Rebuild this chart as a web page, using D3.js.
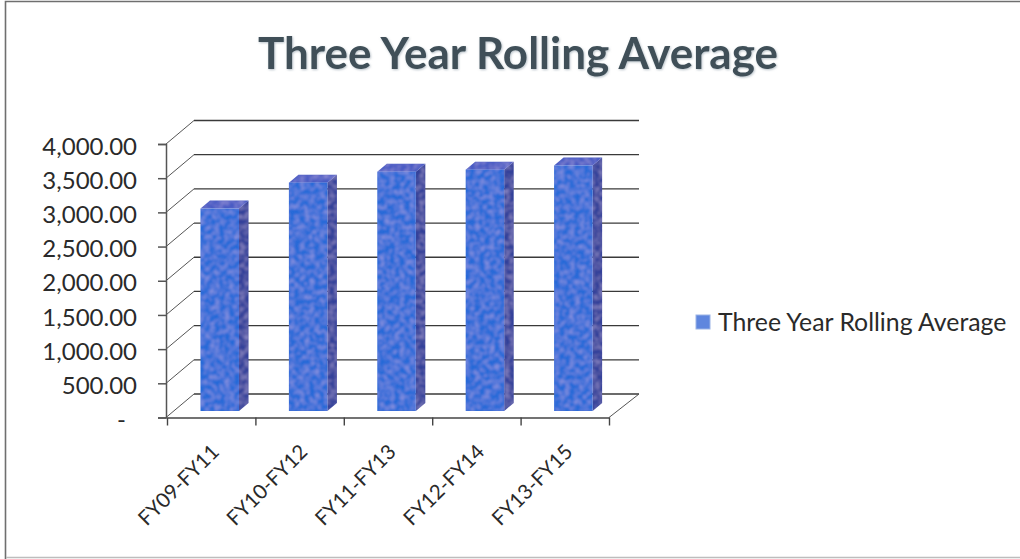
<!DOCTYPE html>
<html><head><meta charset="utf-8">
<script src="https://cdn.jsdelivr.net/npm/d3@7/dist/d3.min.js"></script>
<style>html,body{margin:0;padding:0;background:#fff}svg{display:block}text{font-family:Lato,"Open Sans",sans-serif}</style>
</head><body><div id="c"></div>
<script>
const categories = ["FY09-FY11","FY10-FY12","FY11-FY13","FY12-FY14","FY13-FY15"];
const seriesName = "Three Year Rolling Average";
const values = [2960, 3340, 3500, 3530, 3590];
const yTicks = [0,500,1000,1500,2000,2500,3000,3500,4000];

const W=1020,H=559;
const svg=d3.select("#c").append("svg").attr("width",W).attr("height",H);
const defs=svg.append("defs");
const f=defs.append("filter").attr("id","grain").attr("x","0").attr("y","0").attr("width","1").attr("height","1");
f.append("feTurbulence").attr("type","fractalNoise").attr("baseFrequency",0.2).attr("numOctaves",2).attr("seed",4).attr("result","n");
f.append("feColorMatrix").attr("in","n").attr("type","matrix").attr("values","0 0 0 0 0.50  0 0 0 0 0.45  0 0 0 0 0.78  1.0 0 0 0 -0.40").attr("result","t0");
f.append("feGaussianBlur").attr("in","t0").attr("stdDeviation",0.8).attr("result","t");
f.append("feComposite").attr("in","t").attr("in2","SourceAlpha").attr("operator","in").attr("result","c");
f.append("feMerge").selectAll("feMergeNode").data(["SourceGraphic","c"]).join("feMergeNode").attr("in",d=>d);
const sh=defs.append("filter").attr("id","ts").attr("x","-5%").attr("y","-20%").attr("width","110%").attr("height","140%");
sh.append("feDropShadow").attr("dx",0.8).attr("dy",1).attr("stdDeviation",0.8).attr("flood-color","#8a9aa5").attr("flood-opacity",.6);

// frame
svg.append("path").attr("d",`M5.5,559V1.5H1020`).attr("fill","none").attr("stroke","#6f6f6f").attr("stroke-width",1.6);
svg.append("path").attr("d",`M6,557.5H1020`).attr("fill","none").attr("stroke","#bdbdbd").attr("stroke-width",1.5);

const y=d3.scaleLinear().domain([0,4000]).range([417.5,144]);
const x=d3.scaleBand().domain(categories).range([167,609]).paddingInner(0).paddingOuter(0);
const DX=27,DY=-23.5;
const ink="#3a3a3a";
const g=svg.append("g");
g.selectAll(".grid").data(yTicks).join("line").attr("class","grid")
 .attr("x1",d=>167+DX).attr("x2",609+30).attr("y1",d=>y(d)+DY).attr("y2",d=>y(d)+DY)
 .attr("stroke",ink).attr("stroke-width",1.3);
g.selectAll(".diag").data(yTicks).join("line").attr("class","diag")
 .attr("x1",166).attr("x2",167+DX).attr("y1",d=>y(d)).attr("y2",d=>y(d)+DY)
 .attr("stroke","#555").attr("stroke-width",1);
g.append("line").attr("x1",609).attr("y1",y(0)).attr("x2",639).attr("y2",y(0)+DY).attr("stroke","#555");
// axes
const ay=d3.axisLeft(y).tickValues(yTicks).tickSize(8).tickPadding(7).tickFormat(d=>d===0?"-":d3.format(",.2f")(d));
const gy=svg.append("g").attr("transform","translate(166,0)").call(ay);
gy.selectAll("text").attr("font-size",24).attr("fill","#2a2a2a").attr("x",d=>d===0?-40:-29).attr("dy","0.42em");
gy.selectAll("line,path").attr("stroke","#555").attr("stroke-width",1.5);
const ticksX=x.domain().map(d=>x(d)).concat(609);
const ax=d3.axisBottom(d3.scaleLinear().domain([167,609]).range([167,609])).tickValues(ticksX).tickSize(8).tickSizeOuter(0).tickFormat("");
const gx=svg.append("g").attr("transform",`translate(0,${y(0)})`).call(ax);
gx.selectAll("line,path").attr("stroke","#444").attr("stroke-width",1.4);
// x labels
svg.selectAll(".xl").data(categories).join("text").attr("class","xl")
 .attr("transform",d=>`translate(${x(d)+x.bandwidth()/2-1},${443}) rotate(-45)`)
 .attr("text-anchor","end").attr("font-size",20.5).attr("fill","#2a2a2a").attr("dy","0.7em").text(d=>d);
// bars
const barW=38.5, barOff=33.5, bdx=9.5, bdy=-8, base=y(0)-6.5;
const scaleH=v=>y(0)-y(v);
const bars=svg.selectAll(".bar").data(categories.map((c,i)=>({c,v:values[i]}))).join("g").attr("class","bar")
 .attr("filter","url(#grain)");
bars.append("path").attr("fill","#34429a").attr("d",d=>{const l=x(d.c)+barOff+barW,t=base-scaleH(d.v);return `M${l},${base}L${l+bdx},${base+bdy}V${t+bdy}L${l},${t}Z`});
bars.append("path").attr("fill","#4a5cc4").attr("d",d=>{const l=x(d.c)+barOff,t=base-scaleH(d.v);return `M${l},${t}L${l+bdx},${t+bdy}H${l+barW+bdx}L${l+barW},${t}Z`});
bars.append("rect").attr("fill","#2a6ad8").attr("x",d=>x(d.c)+barOff).attr("width",barW).attr("y",d=>base-scaleH(d.v)).attr("height",d=>scaleH(d.v));
// title
svg.append("text").attr("x",518).attr("y",69).attr("text-anchor","middle").attr("font-size",44).attr("font-weight",700)
 .attr("fill","#3f5058").attr("filter","url(#ts)").text(seriesName);
// legend
svg.append("rect").attr("x",696).attr("y",315).attr("width",14).attr("height",14).attr("fill","#5f86de").attr("stroke","#9bb3e6");
svg.append("text").attr("x",718).attr("y",331).attr("font-size",24.8).attr("fill","#2a2a2a").text(seriesName);
</script></body></html>
